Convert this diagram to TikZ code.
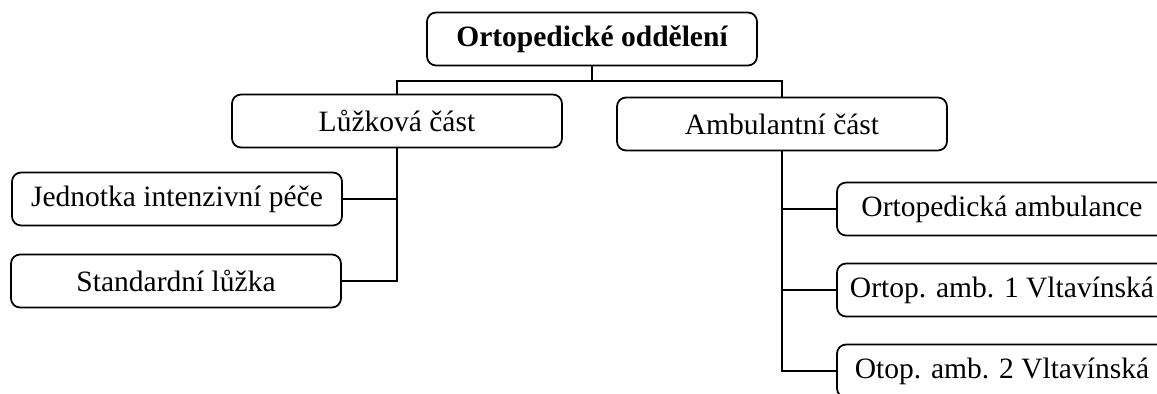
\documentclass[tikz,border=0pt]{standalone}
\usepackage{fontspec}
\setmainfont{Liberation Serif}
\begin{document}
\begin{tikzpicture}[x=0.02cm,y=-0.02cm,
  unit/.style={draw,line width=1pt,rounded corners=0.18cm,minimum width=6.6cm,minimum height=1.06cm,inner sep=0pt,font=\fontsize{16.8}{20}\selectfont},
  link/.style={line width=1pt}]
\clip (0,0) rectangle (1157,394);
\node[unit,font=\fontsize{16.8}{20}\selectfont\bfseries] (top) at (592,39) {Ortopedické oddělení};
\node[unit] (luz) at (397,121) {Lůžková část};
\node[unit] (amb) at (782,124) {Ambulantní část};
\node[unit] (jip) at (177,199) {Jednotka intenzivní péče};
\node[unit] (std) at (176,281) {Standardní lůžka};
\node[unit] (oa) at (1002,209) {Ortopedická ambulance};
\node[unit] (oa1) at (1002,290) {Ortop. amb. 1 Vltavínská};
\node[unit] (oa2) at (1002,371) {Otop. amb. 2 Vltavínská};
\coordinate (bus) at (592,81);
\draw[link] (top.south) -- (bus);
\draw[link] (luz.north) |- (bus) -| (amb.north);
\draw[link] (luz.south) |- (jip.east);
\draw[link] (luz.south) |- (std.east);
\draw[link] (amb.south) |- (oa.west);
\draw[link] (amb.south) |- (oa1.west);
\draw[link] (amb.south) |- (oa2.west);
\end{tikzpicture}
\end{document}
